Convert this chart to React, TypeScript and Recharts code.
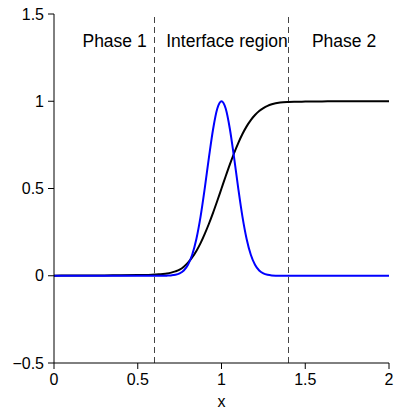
import { LineChart, Line, XAxis, YAxis, ReferenceLine, ReferenceDot } from 'recharts'

// ---------------------------------------------------------------------------
// Phase field profile: order parameter (black) and interface indicator (blue)
// ---------------------------------------------------------------------------

const xs = [
  0, 0.1, 0.2, 0.3, 0.4, 0.5, 0.55, 0.6, 0.625, 0.65, 0.675, 0.7, 0.725, 0.75,
  0.775, 0.8, 0.825, 0.85, 0.875, 0.9, 0.925, 0.95, 0.975, 1.0, 1.025, 1.05,
  1.075, 1.1, 1.125, 1.15, 1.175, 1.2, 1.225, 1.25, 1.275, 1.3, 1.35, 1.4, 1.45,
  1.5, 1.6, 1.7, 1.8, 1.9, 2.0,
]

const phaseField = [
  0.0005, 0.001, 0.001, 0.002, 0.003, 0.004, 0.005, 0.007, 0.008, 0.01, 0.013,
  0.018, 0.025, 0.035, 0.052, 0.075, 0.105, 0.142, 0.187, 0.24, 0.298, 0.362,
  0.43, 0.5, 0.57, 0.638, 0.702, 0.76, 0.812, 0.856, 0.892, 0.921, 0.944, 0.961,
  0.974, 0.983, 0.993, 0.996, 0.997, 0.998, 0.999, 1, 1, 1, 1,
]

const interfaceIndicator = [
  0, 0, 0, 0, 0, 0, 0, 0, 0, 0.0002, 0.0007, 0.002, 0.0053, 0.0132, 0.03, 0.063,
  0.12, 0.211, 0.339, 0.501, 0.678, 0.841, 0.958, 1, 0.958, 0.841, 0.678, 0.501,
  0.339, 0.211, 0.12, 0.063, 0.03, 0.0132, 0.0053, 0.002, 0.0002, 0, 0, 0, 0, 0,
  0, 0, 0,
]

const xTicks = [0, 0.5, 1, 1.5, 2]
const yTicks = [-0.5, 0, 0.5, 1, 1.5]
const boundaries = [0.6, 1.4]

const regionNames = ['Phase 1', 'Interface region', 'Phase 2']
const regionStarts = [0.17, 0.67, 1.54]

const data = xs.map((x, i) => ({
  x,
  phase: phaseField[i],
  indicator: interfaceIndicator[i],
}))

const FONT = '"Liberation Sans", Arial, Helvetica, sans-serif'

const fmt = (v: number) => (v < 0 ? '\u2212' + Math.abs(v) : String(v))

export default function App() {
  return (
    <div style={{ position: 'absolute', left: 0, top: 0, background: '#fff' }}>
      <LineChart
        width={394}
        height={409}
        data={data}
        margin={{ top: 14, right: 5, bottom: 0, left: 0 }}
        style={{ fontFamily: FONT }}
      >
        <XAxis
          dataKey="x"
          type="number"
          domain={[0, 2]}
          ticks={xTicks}
          tickFormatter={fmt}
          height={46}
          stroke="#000"
          tickSize={6}
          tickMargin={5}
          tick={{ fill: '#000', fontSize: 16 }}
          label={{ value: 'x', position: 'insideBottom', offset: 2, fill: '#000', fontSize: 16 }}
        />
        <YAxis
          type="number"
          domain={[-0.5, 1.5]}
          ticks={yTicks}
          tickFormatter={fmt}
          width={54}
          stroke="#000"
          tickSize={6}
          tickMargin={4}
          tick={{ fill: '#000', fontSize: 16 }}
        />
        {boundaries.map((b) => (
          <ReferenceLine
            key={b}
            segment={[
              { x: b, y: -0.5 },
              { x: b, y: 1.5 },
            ]}
            stroke="#444"
            strokeWidth={1}
            strokeDasharray="6 4"
          />
        ))}
        {regionNames.map((name, i) => (
          <ReferenceDot
            key={name}
            x={regionStarts[i]}
            y={1.31}
            r={0}
            shape={(p: { cx: number; cy: number }) => (
              <text x={p.cx} y={p.cy} fill="#000" fontSize={17.5} fontFamily={FONT}>
                {name}
              </text>
            )}
          />
        ))}
        <Line
          type="monotone"
          dataKey="phase"
          stroke="#000"
          strokeWidth={2}
          dot={false}
          isAnimationActive={false}
        />
        <Line
          type="monotone"
          dataKey="indicator"
          stroke="#0000ff"
          strokeWidth={2}
          dot={false}
          isAnimationActive={false}
        />
      </LineChart>
    </div>
  )
}
